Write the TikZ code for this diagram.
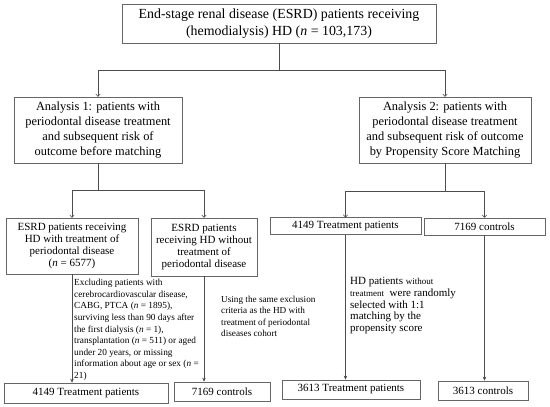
\documentclass[tikz,border=0pt]{standalone}
\usepackage{fontspec}
\setmainfont{Liberation Serif}
\usetikzlibrary{arrows.meta}

\begin{document}
\begin{tikzpicture}[x=1pt, y=-1pt,
  box/.style={draw=black!60, line width=0.6pt, align=center, inner sep=1pt, font=\fontsize{12.4}{15}\selectfont},
  small/.style={font=\fontsize{11}{12.3}\selectfont},
  note/.style={anchor=north west, align=left, inner sep=0pt},
  line/.style={draw=black!70, line width=0.6pt},
  arr/.style={line, -{To[length=3pt,width=5pt]}},
  arrf/.style={line, -{Stealth[length=4pt,width=3.5pt]}}]
  \useasboundingbox (0,0) rectangle (550,407);
  \node[box, minimum width=314pt, minimum height=39pt, font=\fontsize{13.9}{17}\selectfont] (esrd) at (279,23.5) {End-stage renal disease (ESRD) patients receiving\\(hemodialysis) HD (\textit{n} = 103,173)};
  \node[box, minimum width=168pt, minimum height=66pt] (an1) at (98,130) {Analysis 1: patients with\\periodontal disease treatment\\and subsequent risk of\\outcome before matching};
  \node[box, minimum width=172pt, minimum height=66pt] (an2) at (445,130) {Analysis 2: patients with\\periodontal disease treatment\\and subsequent risk of outcome\\by Propensity Score Matching};
  \node[box, small, minimum width=132pt, minimum height=56pt] (withtr) at (72,246) {ESRD patients receiving\\HD with treatment of\\periodontal disease\\(\textit{n} = 6577)};
  \node[box, small, minimum width=106pt, minimum height=58pt] (notr) at (204,247) {ESRD patients\\receiving HD without\\treatment of\\periodontal disease};
  \node[box, small, minimum width=151pt, minimum height=16.5pt] (trtA) at (345.5,226) {4149 Treatment patients};
  \node[box, small, minimum width=121pt, minimum height=17pt] (ctlA) at (484.5,226.5) {7169 controls};
  \node[box, small, minimum width=164pt, minimum height=20pt] (trtB) at (86,393) {4149 Treatment patients};
  \node[box, small, minimum width=96pt, minimum height=19pt] (ctlB) at (222,391.5) {7169 controls};
  \node[box, small, minimum width=138pt, minimum height=19pt] (trtC) at (351,389.5) {3613 Treatment patients};
  \node[box, small, minimum width=90pt, minimum height=19pt] (ctlC) at (483,390.5) {3613 controls};
  \node[note, font=\fontsize{9.3}{11.6}\selectfont] (excl) at (74,279) {Excluding patients with\\cerebrocardiovascular disease,\\CABG, PTCA (\textit{n} = 1895),\\surviving less than 90 days after\\the first dialysis (\textit{n} = 1),\\transplantation (\textit{n} = 511) or aged\\under 20 years, or missing\\information about age or sex (\textit{n} =\\21)};
  \node[note, font=\fontsize{9.2}{11.3}\selectfont] (same) at (221,296) {Using the same exclusion\\criteria as the HD with\\treatment of periodontal\\diseases cohort};
  \node[note, font=\fontsize{11}{11.8}\selectfont] (psm) at (350,277) {HD patients {\fontsize{9}{11.8}\selectfont without}\\{\fontsize{9}{11.8}\selectfont treatment}\ \ were randomly\\selected with 1:1\\matching by the\\propensity score};
  \coordinate (j0) at (279,70); \coordinate (j1) at (98,190); \coordinate (j2) at (445,191);
  \draw[line] (esrd) -- (j0); \draw[arr] (j0) -| (an1); \draw[arr] (j0) -| (an2);
  \draw[line] (an1) -- (j1); \draw[arr] (j1) -| (withtr); \draw[arr] (j1) -| (notr);
  \draw[line] (an2) -- (j2); \draw[arr] (j2) -| (trtA); \draw[arr] (j2) -| (ctlA);
  \draw[arrf] (withtr) -- (withtr |- trtB.north); \draw[arrf] (notr) -- (notr |- ctlB.north);
  \draw[arrf] (trtA) -- (trtA |- trtC.north); \draw[arrf] (ctlA) -- (ctlA |- ctlC.north);
\end{tikzpicture}
\end{document}
